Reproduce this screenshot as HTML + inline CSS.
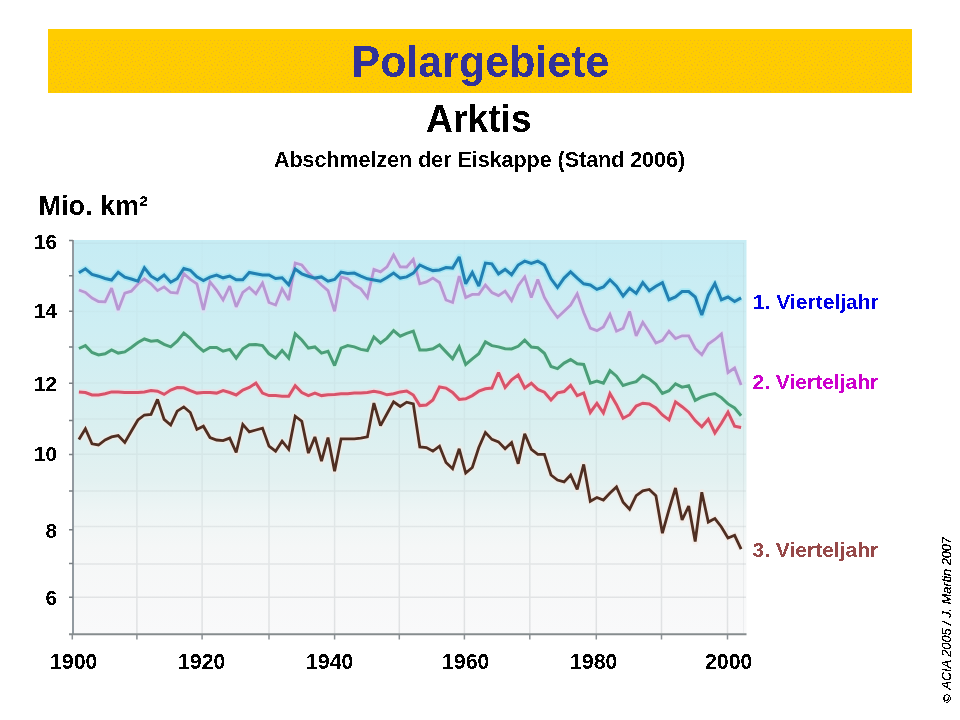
<!DOCTYPE html>
<html><head><meta charset="utf-8">
<style>
html,body{margin:0;padding:0;background:#fff;}
body{width:960px;height:720px;overflow:hidden;position:relative;font-family:"Liberation Sans",sans-serif;}
svg{position:absolute;left:0;top:0;}
</style></head><body>
<svg width="960" height="720" viewBox="0 0 960 720" font-family="Liberation Sans, sans-serif">
<defs>
<linearGradient id="bg" x1="0" y1="0" x2="0" y2="1">
<stop offset="0" stop-color="#c6ecf4"/>
<stop offset="0.23" stop-color="#ceeef3"/>
<stop offset="0.46" stop-color="#d9eff0"/>
<stop offset="0.61" stop-color="#e3f1f1"/>
<stop offset="0.69" stop-color="#eef5f5"/>
<stop offset="0.78" stop-color="#f5f7f7"/>
<stop offset="1" stop-color="#f9f9fa"/>
</linearGradient>
<linearGradient id="gridg" gradientUnits="userSpaceOnUse" x1="0" y1="240" x2="0" y2="634">
<stop offset="0" stop-color="#9aa8ac" stop-opacity="0.03"/>
<stop offset="0.5" stop-color="#9aa8ac" stop-opacity="0.12"/>
<stop offset="1" stop-color="#a0a4a8" stop-opacity="0.28"/>
</linearGradient>
<pattern id="dots" patternUnits="userSpaceOnUse" x="60" y="43" width="24" height="22"><path d="M1 0h1v1h-1zM8 0h1v1h-1zM13 0h1v1h-1zM20 0h1v1h-1zM5 1h1v1h-1zM17 1h1v1h-1zM11 3h1v1h-1zM23 3h1v1h-1zM2 4h1v1h-1zM7 4h1v1h-1zM14 4h1v1h-1zM19 4h1v1h-1zM5 6h1v1h-1zM17 6h1v1h-1zM0 7h1v1h-1zM12 7h1v1h-1zM9 8h1v1h-1zM21 8h1v1h-1zM3 9h1v1h-1zM15 9h1v1h-1zM7 10h1v1h-1zM19 10h1v1h-1zM0 11h1v1h-1zM11 12h1v1h-1zM23 12h1v1h-1zM5 13h1v1h-1zM17 13h1v1h-1zM1 14h1v1h-1zM8 14h1v1h-1zM14 14h1v1h-1zM20 14h1v1h-1zM11 16h1v1h-1zM23 16h1v1h-1zM6 17h1v1h-1zM18 17h1v1h-1zM0 18h1v1h-1zM3 18h1v1h-1zM15 18h1v1h-1zM10 19h1v1h-1zM22 19h1v1h-1zM7 21h1v1h-1zM13 21h1v1h-1zM19 21h1v1h-1z" fill="#dba24a"/></pattern>
<pattern id="row" patternUnits="userSpaceOnUse" x="54" y="40" width="4" height="1"><rect width="1" height="1" fill="#dba24a"/></pattern>
<filter id="crisp" x="-0.1" y="-0.3" width="1.2" height="1.6"><feComponentTransfer><feFuncA type="discrete" tableValues="0 1"/></feComponentTransfer></filter>
<filter id="crisp2" x="-0.3" y="-0.1" width="1.6" height="1.2"><feComponentTransfer><feFuncA type="discrete" tableValues="0 1 1"/></feComponentTransfer></filter>
<filter id="soft" x="-0.05" y="-0.1" width="1.1" height="1.2"><feGaussianBlur stdDeviation="0.45"/></filter>
</defs>
<rect x="48" y="29" width="864" height="64" fill="#ffcc00"/>
<rect x="50" y="43" width="861" height="50" fill="url(#dots)" opacity="0.5"/>
<rect x="54" y="40" width="855" height="1" fill="url(#row)" opacity="0.5"/>
<text filter="url(#crisp)" x="351.5" y="77" font-size="43" font-weight="bold" fill="#333399" transform="translate(0 77) scale(1 1.025) translate(0 -77)">Polargebiete</text>
<text filter="url(#crisp)" x="426" y="132" font-size="37.33" font-weight="bold" fill="#000" transform="translate(0 132) scale(1 1.03) translate(0 -132)">Arktis</text>
<text filter="url(#crisp)" x="274" y="167" font-size="21.45" font-weight="bold" fill="#000">Abschmelzen der Eiskappe (Stand 2006)</text>
<text filter="url(#crisp)" x="38.5" y="215" font-size="27" font-weight="bold" fill="#000">Mio. km²</text>
<rect x="72" y="240" width="674.5" height="394" fill="url(#bg)"/>
<path d="M74 276H746M74 311.5H746M74 347H746M74 383H746M74 419H746M74 454.3H746M74 491H746M74 526.5H746M74 564H746M74 597.3H746M136.9 240.5V633.5M202.1 240.5V633.5M269 240.5V633.5M334.6 240.5V633.5M399.3 240.5V633.5M464.4 240.5V633.5M529.8 240.5V633.5M596.3 240.5V633.5M661.5 240.5V633.5M727.5 240.5V633.5" stroke="url(#gridg)" stroke-width="1.5" fill="none"/>
<path d="M74 243.2H744M743.5 243V633" stroke="#9aa8ac" stroke-opacity="0.12" stroke-width="1" fill="none"/>
<g fill="none" stroke-linejoin="miter" stroke-miterlimit="2.5" stroke-linecap="butt" filter="url(#soft)">
<path d="M78.9 391.9 85.4 392.5 92.0 395.0 98.5 395.0 105.1 393.8 111.6 391.9 118.2 391.9 124.8 392.5 131.3 392.5 137.9 392.5 144.4 391.9 151.0 390.6 157.5 391.2 164.1 394.4 170.7 390.0 177.2 387.5 183.8 387.8 190.3 390.6 196.9 393.1 203.4 392.5 210.0 392.5 216.6 393.1 223.1 390.6 229.7 392.5 236.2 395.0 242.8 390.0 249.3 387.5 255.9 383.1 262.5 393.1 269.0 395.6 275.6 395.6 282.1 396.2 288.7 396.2 295.2 385.6 301.8 392.5 308.4 395.6 314.9 393.1 321.5 395.6 328.0 394.8 334.6 394.4 341.1 393.8 347.7 393.8 354.3 393.1 360.8 393.1 367.4 392.5 373.9 391.2 380.5 392.5 387.0 394.8 393.6 393.8 400.2 391.9 406.7 391.0 413.3 395.0 419.8 405.6 426.4 405.0 432.9 400.0 439.5 386.9 446.0 388.1 452.6 392.5 459.2 399.4 465.7 398.8 472.3 395.6 478.8 391.2 485.4 388.8 491.9 388.1 498.5 372.5 505.1 387.5 511.6 379.8 518.2 375.0 524.7 388.0 531.3 383.2 537.8 389.4 544.4 392.2 551.0 399.9 557.5 392.9 564.1 391.5 570.6 385.3 577.2 395.7 583.7 392.9 590.3 412.4 596.9 403.3 603.4 413.0 610.0 393.6 616.5 404.7 623.1 418.2 629.6 414.7 636.2 406.0 642.8 403.2 649.3 403.9 655.9 408.0 662.4 415.0 669.0 419.9 675.5 401.8 682.1 406.7 688.7 412.2 695.2 420.6 701.8 426.8 708.3 419.2 714.9 433.0 721.4 423.3 728.0 412.2 734.6 426.1 741.1 427.5" stroke="#f8d8de" stroke-width="6.5" stroke-linejoin="round" opacity="0.55"/><path d="M78.9 348.5 85.4 345.6 92.0 352.5 98.5 355.0 105.1 353.8 111.6 350.0 118.2 353.1 124.8 351.9 131.3 347.5 137.9 342.5 144.4 339.0 151.0 341.2 157.5 340.6 164.1 344.4 170.7 346.9 177.2 341.2 183.8 333.1 190.3 338.4 196.9 345.6 203.4 351.2 210.0 347.5 216.6 347.5 223.1 351.2 229.7 349.4 236.2 358.1 242.8 348.8 249.3 344.8 255.9 344.4 262.5 345.6 269.0 353.8 275.6 358.1 282.1 350.6 288.7 358.1 295.2 333.8 301.8 340.0 308.4 348.1 314.9 346.9 321.5 353.1 328.0 351.2 334.6 365.6 341.1 348.1 347.7 345.6 354.3 346.9 360.8 349.4 367.4 350.6 373.9 336.9 380.5 343.1 387.0 338.1 393.6 330.6 400.2 336.2 406.7 333.4 413.3 331.2 419.8 350.0 426.4 350.0 432.9 348.8 439.5 345.0 446.0 351.9 452.6 358.8 459.2 346.9 465.7 364.4 472.3 358.8 478.8 353.8 485.4 341.9 491.9 345.6 498.5 346.9 505.1 348.8 511.6 349.0 518.2 346.3 524.7 340.1 531.3 347.1 537.8 347.8 544.4 353.3 551.0 366.5 557.5 368.6 564.1 363.1 570.6 359.6 577.2 363.8 583.7 364.4 590.3 383.2 596.9 381.1 603.4 383.2 610.0 370.7 616.5 376.2 623.1 385.5 629.6 383.4 636.2 381.7 642.8 375.4 649.3 378.9 655.9 384.4 662.4 393.5 669.0 390.7 675.5 383.8 682.1 387.2 688.7 385.8 695.2 400.4 701.8 397.0 708.3 394.9 714.9 393.5 721.4 397.6 728.0 403.9 734.6 408.0 741.1 415.7" stroke="#c8f2e4" stroke-width="6.5" stroke-linejoin="round" opacity="0.55"/><path d="M78.9 439.4 85.4 428.8 92.0 443.8 98.5 445.0 105.1 440.0 111.6 436.9 118.2 435.6 124.8 442.5 131.3 431.2 137.9 420.0 144.4 415.0 151.0 414.4 157.5 399.4 164.1 419.4 170.7 425.0 177.2 411.2 183.8 406.9 190.3 412.5 196.9 429.4 203.4 426.2 210.0 437.5 216.6 440.0 223.1 440.6 229.7 438.1 236.2 452.5 242.8 424.4 249.3 431.9 255.9 430.0 262.5 428.1 269.0 446.2 275.6 451.2 282.1 441.2 288.7 449.4 295.2 416.2 301.8 421.2 308.4 453.1 314.9 436.9 321.5 461.2 328.0 437.5 334.6 471.2 341.1 438.8 347.7 438.8 354.3 438.8 360.8 438.1 367.4 436.9 373.9 403.1 380.5 425.6 387.0 413.8 393.6 401.9 400.2 406.5 406.7 402.2 413.3 403.8 419.8 446.9 426.4 447.5 432.9 451.2 439.5 446.2 446.0 462.5 452.6 468.8 459.2 448.8 465.7 473.1 472.3 467.5 478.8 447.5 485.4 432.5 491.9 439.4 498.5 441.9 505.1 448.8 511.6 442.5 518.2 463.8 524.7 433.8 531.3 449.4 537.8 454.4 544.4 454.4 551.0 475.0 557.5 480.0 564.1 481.9 570.6 475.0 577.2 489.4 583.7 464.4 590.3 501.2 596.9 497.5 603.4 500.0 610.0 493.1 616.5 486.9 623.1 502.3 629.6 509.2 636.2 495.7 642.8 490.8 649.3 489.4 655.9 495.7 662.4 533.2 669.0 509.6 675.5 488.0 682.1 520.0 688.7 506.1 695.2 541.5 701.8 492.2 708.3 522.1 714.9 518.6 721.4 527.0 728.0 538.0 734.6 535.3 741.1 549.2" stroke="#f6e8e0" stroke-width="6.5" stroke-linejoin="round" opacity="0.55"/><path d="M78.9 290.0 85.4 292.5 92.0 298.1 98.5 301.5 105.1 301.9 111.6 288.1 118.2 310.0 124.8 293.1 131.3 291.2 137.9 284.0 144.4 278.8 151.0 283.8 157.5 290.6 164.1 286.9 170.7 292.5 177.2 293.1 183.8 273.7 190.3 279.4 196.9 283.8 203.4 310.0 210.0 281.9 216.6 290.0 223.1 300.0 229.7 286.2 236.2 306.9 242.8 292.5 249.3 287.5 255.9 293.8 262.5 283.1 269.0 302.5 275.6 305.0 282.1 288.8 288.7 300.0 295.2 263.0 301.8 265.0 308.4 273.1 314.9 278.8 321.5 285.0 328.0 290.6 334.6 311.2 341.1 276.9 347.7 278.8 354.3 285.0 360.8 288.8 367.4 297.5 373.9 269.4 380.5 271.9 387.0 266.9 393.6 255.0 400.2 266.9 406.7 267.0 413.3 259.4 419.8 283.8 426.4 281.9 432.9 278.1 439.5 282.5 446.0 300.0 452.6 302.5 459.2 276.2 465.7 297.5 472.3 294.4 478.8 294.4 485.4 285.0 491.9 292.5 498.5 295.6 505.1 291.2 511.6 300.6 518.2 285.6 524.7 276.9 531.3 297.5 537.8 279.4 544.4 297.5 551.0 308.8 557.5 317.5 564.1 311.2 570.6 305.0 577.2 293.8 583.7 312.5 590.3 328.1 596.9 330.6 603.4 326.9 610.0 314.4 616.5 331.2 623.1 328.3 629.6 311.4 636.2 335.8 642.8 322.3 649.3 332.2 655.9 343.1 662.4 340.4 669.0 331.3 675.5 338.5 682.1 335.8 688.7 335.8 695.2 348.5 701.8 354.8 708.3 344.0 714.9 339.5 721.4 334.0 728.0 372.5 734.6 368.0 741.1 385.0" stroke="#e2dcf4" stroke-width="6.5" stroke-linejoin="round" opacity="0.55"/><path d="M78.9 272.8 85.4 268.8 92.0 274.4 98.5 276.2 105.1 278.5 111.6 280.0 118.2 272.2 124.8 277.2 131.3 279.0 137.9 281.2 144.4 267.8 151.0 276.2 157.5 280.0 164.1 275.0 170.7 282.2 177.2 278.5 183.8 268.5 190.3 270.3 196.9 276.9 203.4 280.6 210.0 277.2 216.6 275.0 223.1 277.8 229.7 276.0 236.2 279.8 242.8 279.8 249.3 272.5 255.9 273.8 262.5 275.0 269.0 275.0 275.6 278.5 282.1 277.8 288.7 284.8 295.2 269.0 301.8 273.8 308.4 276.2 314.9 278.1 321.5 276.9 328.0 281.2 334.6 279.4 341.1 272.2 347.7 273.5 354.3 273.1 360.8 276.2 367.4 278.8 373.9 280.0 380.5 281.2 387.0 277.5 393.6 273.1 400.2 278.1 406.7 276.9 413.3 273.1 419.8 265.0 426.4 268.1 432.9 270.6 439.5 270.0 446.0 267.5 452.6 268.1 459.2 256.9 465.7 283.8 472.3 272.5 478.8 286.2 485.4 263.1 491.9 263.8 498.5 273.8 505.1 269.4 511.6 274.7 518.2 265.0 524.7 261.2 531.3 263.5 537.8 261.2 544.4 265.0 551.0 278.8 557.5 287.5 564.1 278.1 570.6 271.9 577.2 278.1 583.7 283.8 590.3 285.0 596.9 289.4 603.4 286.9 610.0 279.8 616.5 286.2 623.1 296.0 629.6 288.4 636.2 293.4 642.8 282.6 649.3 290.7 655.9 286.2 662.4 282.6 669.0 299.7 675.5 297.0 682.1 291.6 688.7 291.6 695.2 297.0 701.8 315.1 708.3 295.2 714.9 283.5 721.4 299.7 728.0 297.0 734.6 301.5 741.1 297.9" stroke="#90e4f4" stroke-width="6.5" stroke-linejoin="round" opacity="0.55"/>
<path d="M78.9 391.9 85.4 392.5 92.0 395.0 98.5 395.0 105.1 393.8 111.6 391.9 118.2 391.9 124.8 392.5 131.3 392.5 137.9 392.5 144.4 391.9 151.0 390.6 157.5 391.2 164.1 394.4 170.7 390.0 177.2 387.5 183.8 387.8 190.3 390.6 196.9 393.1 203.4 392.5 210.0 392.5 216.6 393.1 223.1 390.6 229.7 392.5 236.2 395.0 242.8 390.0 249.3 387.5 255.9 383.1 262.5 393.1 269.0 395.6 275.6 395.6 282.1 396.2 288.7 396.2 295.2 385.6 301.8 392.5 308.4 395.6 314.9 393.1 321.5 395.6 328.0 394.8 334.6 394.4 341.1 393.8 347.7 393.8 354.3 393.1 360.8 393.1 367.4 392.5 373.9 391.2 380.5 392.5 387.0 394.8 393.6 393.8 400.2 391.9 406.7 391.0 413.3 395.0 419.8 405.6 426.4 405.0 432.9 400.0 439.5 386.9 446.0 388.1 452.6 392.5 459.2 399.4 465.7 398.8 472.3 395.6 478.8 391.2 485.4 388.8 491.9 388.1 498.5 372.5 505.1 387.5 511.6 379.8 518.2 375.0 524.7 388.0 531.3 383.2 537.8 389.4 544.4 392.2 551.0 399.9 557.5 392.9 564.1 391.5 570.6 385.3 577.2 395.7 583.7 392.9 590.3 412.4 596.9 403.3 603.4 413.0 610.0 393.6 616.5 404.7 623.1 418.2 629.6 414.7 636.2 406.0 642.8 403.2 649.3 403.9 655.9 408.0 662.4 415.0 669.0 419.9 675.5 401.8 682.1 406.7 688.7 412.2 695.2 420.6 701.8 426.8 708.3 419.2 714.9 433.0 721.4 423.3 728.0 412.2 734.6 426.1 741.1 427.5" stroke="#d8536a" stroke-width="3.0"/><path d="M78.9 348.5 85.4 345.6 92.0 352.5 98.5 355.0 105.1 353.8 111.6 350.0 118.2 353.1 124.8 351.9 131.3 347.5 137.9 342.5 144.4 339.0 151.0 341.2 157.5 340.6 164.1 344.4 170.7 346.9 177.2 341.2 183.8 333.1 190.3 338.4 196.9 345.6 203.4 351.2 210.0 347.5 216.6 347.5 223.1 351.2 229.7 349.4 236.2 358.1 242.8 348.8 249.3 344.8 255.9 344.4 262.5 345.6 269.0 353.8 275.6 358.1 282.1 350.6 288.7 358.1 295.2 333.8 301.8 340.0 308.4 348.1 314.9 346.9 321.5 353.1 328.0 351.2 334.6 365.6 341.1 348.1 347.7 345.6 354.3 346.9 360.8 349.4 367.4 350.6 373.9 336.9 380.5 343.1 387.0 338.1 393.6 330.6 400.2 336.2 406.7 333.4 413.3 331.2 419.8 350.0 426.4 350.0 432.9 348.8 439.5 345.0 446.0 351.9 452.6 358.8 459.2 346.9 465.7 364.4 472.3 358.8 478.8 353.8 485.4 341.9 491.9 345.6 498.5 346.9 505.1 348.8 511.6 349.0 518.2 346.3 524.7 340.1 531.3 347.1 537.8 347.8 544.4 353.3 551.0 366.5 557.5 368.6 564.1 363.1 570.6 359.6 577.2 363.8 583.7 364.4 590.3 383.2 596.9 381.1 603.4 383.2 610.0 370.7 616.5 376.2 623.1 385.5 629.6 383.4 636.2 381.7 642.8 375.4 649.3 378.9 655.9 384.4 662.4 393.5 669.0 390.7 675.5 383.8 682.1 387.2 688.7 385.8 695.2 400.4 701.8 397.0 708.3 394.9 714.9 393.5 721.4 397.6 728.0 403.9 734.6 408.0 741.1 415.7" stroke="#4c9e79" stroke-width="3.0"/><path d="M78.9 439.4 85.4 428.8 92.0 443.8 98.5 445.0 105.1 440.0 111.6 436.9 118.2 435.6 124.8 442.5 131.3 431.2 137.9 420.0 144.4 415.0 151.0 414.4 157.5 399.4 164.1 419.4 170.7 425.0 177.2 411.2 183.8 406.9 190.3 412.5 196.9 429.4 203.4 426.2 210.0 437.5 216.6 440.0 223.1 440.6 229.7 438.1 236.2 452.5 242.8 424.4 249.3 431.9 255.9 430.0 262.5 428.1 269.0 446.2 275.6 451.2 282.1 441.2 288.7 449.4 295.2 416.2 301.8 421.2 308.4 453.1 314.9 436.9 321.5 461.2 328.0 437.5 334.6 471.2 341.1 438.8 347.7 438.8 354.3 438.8 360.8 438.1 367.4 436.9 373.9 403.1 380.5 425.6 387.0 413.8 393.6 401.9 400.2 406.5 406.7 402.2 413.3 403.8 419.8 446.9 426.4 447.5 432.9 451.2 439.5 446.2 446.0 462.5 452.6 468.8 459.2 448.8 465.7 473.1 472.3 467.5 478.8 447.5 485.4 432.5 491.9 439.4 498.5 441.9 505.1 448.8 511.6 442.5 518.2 463.8 524.7 433.8 531.3 449.4 537.8 454.4 544.4 454.4 551.0 475.0 557.5 480.0 564.1 481.9 570.6 475.0 577.2 489.4 583.7 464.4 590.3 501.2 596.9 497.5 603.4 500.0 610.0 493.1 616.5 486.9 623.1 502.3 629.6 509.2 636.2 495.7 642.8 490.8 649.3 489.4 655.9 495.7 662.4 533.2 669.0 509.6 675.5 488.0 682.1 520.0 688.7 506.1 695.2 541.5 701.8 492.2 708.3 522.1 714.9 518.6 721.4 527.0 728.0 538.0 734.6 535.3 741.1 549.2" stroke="#502f20" stroke-width="2.8"/><path d="M78.9 290.0 85.4 292.5 92.0 298.1 98.5 301.5 105.1 301.9 111.6 288.1 118.2 310.0 124.8 293.1 131.3 291.2 137.9 284.0 144.4 278.8 151.0 283.8 157.5 290.6 164.1 286.9 170.7 292.5 177.2 293.1 183.8 273.7 190.3 279.4 196.9 283.8 203.4 310.0 210.0 281.9 216.6 290.0 223.1 300.0 229.7 286.2 236.2 306.9 242.8 292.5 249.3 287.5 255.9 293.8 262.5 283.1 269.0 302.5 275.6 305.0 282.1 288.8 288.7 300.0 295.2 263.0 301.8 265.0 308.4 273.1 314.9 278.8 321.5 285.0 328.0 290.6 334.6 311.2 341.1 276.9 347.7 278.8 354.3 285.0 360.8 288.8 367.4 297.5 373.9 269.4 380.5 271.9 387.0 266.9 393.6 255.0 400.2 266.9 406.7 267.0 413.3 259.4 419.8 283.8 426.4 281.9 432.9 278.1 439.5 282.5 446.0 300.0 452.6 302.5 459.2 276.2 465.7 297.5 472.3 294.4 478.8 294.4 485.4 285.0 491.9 292.5 498.5 295.6 505.1 291.2 511.6 300.6 518.2 285.6 524.7 276.9 531.3 297.5 537.8 279.4 544.4 297.5 551.0 308.8 557.5 317.5 564.1 311.2 570.6 305.0 577.2 293.8 583.7 312.5 590.3 328.1 596.9 330.6 603.4 326.9 610.0 314.4 616.5 331.2 623.1 328.3 629.6 311.4 636.2 335.8 642.8 322.3 649.3 332.2 655.9 343.1 662.4 340.4 669.0 331.3 675.5 338.5 682.1 335.8 688.7 335.8 695.2 348.5 701.8 354.8 708.3 344.0 714.9 339.5 721.4 334.0 728.0 372.5 734.6 368.0 741.1 385.0" stroke="#b797d3" stroke-width="2.8"/><path d="M78.9 272.8 85.4 268.8 92.0 274.4 98.5 276.2 105.1 278.5 111.6 280.0 118.2 272.2 124.8 277.2 131.3 279.0 137.9 281.2 144.4 267.8 151.0 276.2 157.5 280.0 164.1 275.0 170.7 282.2 177.2 278.5 183.8 268.5 190.3 270.3 196.9 276.9 203.4 280.6 210.0 277.2 216.6 275.0 223.1 277.8 229.7 276.0 236.2 279.8 242.8 279.8 249.3 272.5 255.9 273.8 262.5 275.0 269.0 275.0 275.6 278.5 282.1 277.8 288.7 284.8 295.2 269.0 301.8 273.8 308.4 276.2 314.9 278.1 321.5 276.9 328.0 281.2 334.6 279.4 341.1 272.2 347.7 273.5 354.3 273.1 360.8 276.2 367.4 278.8 373.9 280.0 380.5 281.2 387.0 277.5 393.6 273.1 400.2 278.1 406.7 276.9 413.3 273.1 419.8 265.0 426.4 268.1 432.9 270.6 439.5 270.0 446.0 267.5 452.6 268.1 459.2 256.9 465.7 283.8 472.3 272.5 478.8 286.2 485.4 263.1 491.9 263.8 498.5 273.8 505.1 269.4 511.6 274.7 518.2 265.0 524.7 261.2 531.3 263.5 537.8 261.2 544.4 265.0 551.0 278.8 557.5 287.5 564.1 278.1 570.6 271.9 577.2 278.1 583.7 283.8 590.3 285.0 596.9 289.4 603.4 286.9 610.0 279.8 616.5 286.2 623.1 296.0 629.6 288.4 636.2 293.4 642.8 282.6 649.3 290.7 655.9 286.2 662.4 282.6 669.0 299.7 675.5 297.0 682.1 291.6 688.7 291.6 695.2 297.0 701.8 315.1 708.3 295.2 714.9 283.5 721.4 299.7 728.0 297.0 734.6 301.5 741.1 297.9" stroke="#2080b2" stroke-width="3.0"/>
</g>
<path d="M73 240V635" stroke="#929aa0" stroke-width="2" fill="none"/>
<path d="M69 634.3H746.5" stroke="#868c8e" stroke-width="2" fill="none"/>
<path d="M69 240.4H73M69 275.8H73M69 311.25H73M69 347H73M69 383.25H73M69 420.6H73M69 454.5H73M69 491H73M69 529.75H73M69 563.6H73M69 597.2H73" stroke="#7a8084" stroke-width="1.5" fill="none"/>
<path d="M72.3 635V639.5M136.9 635V639.5M202.1 635V639.5M269 635V639.5M334.6 635V639.5M399.3 635V639.5M464.4 635V639.5M529.8 635V639.5M596.3 635V639.5M661.5 635V639.5M727.5 635V639.5" stroke="#8a9094" stroke-width="1.5" fill="none"/>
<g filter="url(#crisp)" font-size="20.6" font-weight="bold" fill="#000" text-anchor="end">
<text x="57" y="249">16</text>
<text x="57" y="317.5">14</text>
<text x="57" y="390.5">12</text>
<text x="57" y="461">10</text>
<text x="57" y="537.5">8</text>
<text x="57" y="605">6</text>
</g>
<g filter="url(#crisp)" font-size="21.33" font-weight="bold" fill="#000">
<text x="50" y="669">1900</text>
<text x="178" y="669">1920</text>
<text x="306" y="669">1940</text>
<text x="442" y="669">1960</text>
<text x="570" y="669">1980</text>
<text x="705" y="669">2000</text>
</g>
<g filter="url(#crisp)" font-size="21" font-weight="bold">
<text x="753" y="308.5" fill="#0000e6">1. Vierteljahr</text>
<text x="752.5" y="388.5" fill="#cc00cc">2. Vierteljahr</text>
<text x="752.5" y="556.5" fill="#964848">3. Vierteljahr</text>
</g>
<text filter="url(#crisp2)" transform="translate(950.8,537) rotate(-90)" text-anchor="end" font-size="12.75" font-style="italic" fill="#000"><tspan font-size="11.5">©</tspan><tspan dx="5">ACIA 2005 / J. Martin 2007</tspan></text>
</svg>
</body></html>
